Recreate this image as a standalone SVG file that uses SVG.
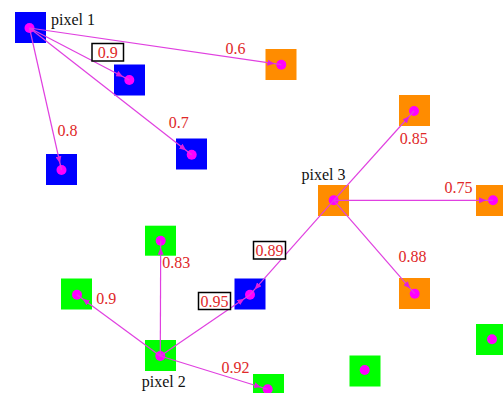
<svg xmlns="http://www.w3.org/2000/svg" width="503" height="393" viewBox="0 0 503 393">
<defs>
<style>
.b{fill:#0000ff}.o{fill:#ff8c00}.g{fill:#00ff00}
.d{fill:#ff00ff}
.e{stroke:#e040e0;stroke-width:1.2;fill:none;marker-end:url(#ah)}
.w{font-family:"Liberation Serif",serif;font-size:16px;fill:#e02828;text-anchor:middle}
.p{font-family:"Liberation Serif",serif;font-size:16px;fill:#111}
.bx{fill:#fff;stroke:#000;stroke-width:1.5}
</style>
<marker id="ah" viewBox="0 0 7 6" markerWidth="7" markerHeight="6" refX="14" refY="3" orient="auto" markerUnits="userSpaceOnUse">
<path d="M0,0 L7,3 L0,6 z" fill="#e020e0"/>
</marker>
</defs>
<rect width="503" height="393" fill="#fff"/>
<g id="pixel1"><rect class="b" x="15" y="12" width="31" height="31"/><circle class="d" cx="29.5" cy="28" r="5"/></g>
<g id="n09"><rect class="b" x="114" y="64.5" width="31" height="31"/><circle class="d" cx="129.3" cy="80" r="5"/></g>
<g id="n06"><rect class="o" x="265.5" y="49" width="31" height="31"/><circle class="d" cx="281.3" cy="64.7" r="5"/></g>
<g id="n07"><rect class="b" x="176" y="138.5" width="31" height="31"/><circle class="d" cx="191.7" cy="154.7" r="5"/></g>
<g id="n08"><rect class="b" x="46" y="154" width="31" height="31"/><circle class="d" cx="61.5" cy="170" r="5"/></g>
<g id="pixel3"><rect class="o" x="318" y="185" width="31" height="31"/><circle class="d" cx="333.7" cy="200.3" r="5"/></g>
<g id="n085"><rect class="o" x="399" y="95" width="31" height="31"/><circle class="d" cx="414" cy="111" r="5"/></g>
<g id="n075"><rect class="o" x="476" y="185" width="31" height="31"/><circle class="d" cx="493" cy="200.3" r="5"/></g>
<g id="n088"><rect class="o" x="399" y="278" width="31" height="31"/><circle class="d" cx="414.7" cy="293.7" r="5"/></g>
<g id="nblue"><rect class="b" x="234.5" y="278.5" width="31" height="31"/><circle class="d" cx="250" cy="294.7" r="5"/></g>
<g id="pixel2"><rect class="g" x="145" y="340" width="31" height="31"/><circle class="d" cx="160.3" cy="356" r="5"/></g>
<g id="n083"><rect class="g" x="145" y="225.7" width="31" height="30"/><circle class="d" cx="160.7" cy="240.7" r="5"/></g>
<g id="n09g"><rect class="g" x="61" y="278.5" width="31" height="31"/><circle class="d" cx="77" cy="294.7" r="5"/></g>
<g id="n092"><rect class="g" x="253" y="374" width="31" height="31"/><circle class="d" cx="267.7" cy="389.3" r="5"/></g>
<g id="nmid"><rect class="g" x="349.5" y="355.5" width="31" height="31"/><circle class="d" cx="364.7" cy="370" r="5"/></g>
<g id="nright"><rect class="g" x="476" y="324" width="31" height="31"/><circle class="d" cx="492" cy="339.3" r="5"/></g>
<g id="connectors">
<line class="e" x1="29.5" y1="28" x2="129.3" y2="80"/>
<line class="e" x1="29.5" y1="28" x2="281.3" y2="64.7"/>
<line class="e" x1="29.5" y1="28" x2="191.7" y2="154.7"/>
<line class="e" x1="29.5" y1="28" x2="61.5" y2="170"/>
<line class="e" x1="333.7" y1="200.3" x2="414" y2="111"/>
<line class="e" x1="333.7" y1="200.3" x2="493" y2="200.3"/>
<line class="e" x1="333.7" y1="200.3" x2="414.7" y2="293.7"/>
<line class="e" x1="333.7" y1="200.3" x2="250" y2="294.7"/>
<line class="e" x1="160.3" y1="356" x2="250" y2="294.7"/>
<line class="e" x1="160.3" y1="356" x2="160.7" y2="240.7"/>
<line class="e" x1="160.3" y1="356" x2="77" y2="294.7"/>
<line class="e" x1="160.3" y1="356" x2="267.7" y2="389.3"/>
</g>
<g id="labels">
<rect class="bx" x="92" y="43.5" width="31.5" height="17.5"/>
<text class="w" x="107.8" y="57.5">0.9</text>
<text class="w" x="235.5" y="54">0.6</text>
<text class="w" x="178.7" y="128">0.7</text>
<text class="w" x="67.5" y="136">0.8</text>
<text class="w" x="413.7" y="144">0.85</text>
<text class="w" x="458.5" y="193">0.75</text>
<text class="w" x="412.5" y="262">0.88</text>
<rect class="bx" x="253.5" y="241.5" width="32" height="17.5"/>
<text class="w" x="269.5" y="256">0.89</text>
<rect class="bx" x="198.5" y="292.5" width="32" height="17"/>
<text class="w" x="214.5" y="306.5">0.95</text>
<text class="w" x="176.3" y="268">0.83</text>
<text class="w" x="106.3" y="303.5">0.9</text>
<text class="w" x="235.5" y="373">0.92</text>
<text class="p" x="51" y="25">pixel 1</text>
<text class="p" x="301.5" y="180">pixel 3</text>
<text class="p" x="141.7" y="387">pixel 2</text>
</g>
</svg>
